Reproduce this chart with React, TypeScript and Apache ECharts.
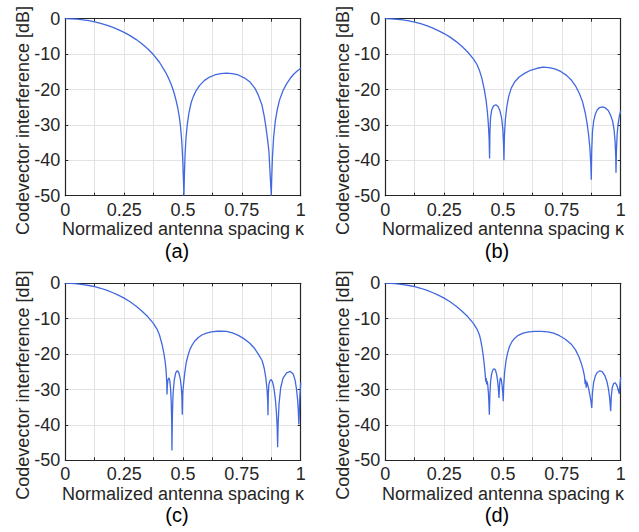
import React, { useEffect, useRef } from 'react';
import * as echarts from 'echarts';

// x: normalized antenna spacing kappa, y: codevector interference [dB]
const xTickLabels = ['0', '0.25', '0.5', '0.75', '1'];
const panelLetters = ['(a)', '(b)', '(c)', '(d)'];

const panelA: [number, number][] = [
  [0, 0], [0.025, -0.04], [0.05, -0.14], [0.075, -0.32], [0.1, -0.56], [0.125, -0.9], [0.15, -1.3], [0.175, -1.8],
  [0.2, -2.38], [0.225, -3.07], [0.25, -3.85], [0.275, -4.78], [0.3, -5.83], [0.325, -7.08], [0.35, -8.51], [0.375, -10.2],
  [0.4, -12.3], [0.425, -15], [0.44, -17], [0.45, -18.6], [0.46, -20.5], [0.47, -22.9], [0.478, -25.3], [0.485, -28.1],
  [0.49, -30.8], [0.495, -34.9], [0.499, -40], [0.502, -46], [0.504, -50],
  [0.506, -44], [0.509, -38], [0.513, -33.5], [0.518, -30], [0.525, -26.7], [0.535, -23.6], [0.545, -21.8], [0.555, -20.4],
  [0.57, -18.9], [0.59, -17.5], [0.61, -16.6], [0.635, -15.9], [0.66, -15.5], [0.685, -15.4], [0.71, -15.5], [0.735, -15.9],
  [0.76, -16.7], [0.785, -17.9], [0.805, -19.6], [0.82, -21.6], [0.835, -24.3], [0.845, -27.5], [0.852, -30.5], [0.86, -34.5],
  [0.865, -37.5], [0.871, -45], [0.875, -50],
  [0.877, -45], [0.88, -39], [0.885, -33.5], [0.892, -29], [0.9, -25.8], [0.91, -23], [0.925, -20.3], [0.94, -18.4],
  [0.955, -16.9], [0.97, -15.7], [0.985, -14.8], [1, -14],
];

const mainLobeBCD: [number, number][] = [
  [0, 0], [0.025, -0.04], [0.05, -0.15], [0.075, -0.35], [0.1, -0.62], [0.125, -0.97], [0.15, -1.4], [0.175, -1.95],
  [0.2, -2.6], [0.225, -3.35], [0.25, -4.2], [0.275, -5.2], [0.3, -6.4], [0.325, -7.8], [0.35, -9.4], [0.375, -11.4],
  [0.39, -13], [0.4, -14.6],
];

const tailB: [number, number][] = [
  [0.41, -16.8], [0.42, -19.8], [0.428, -23], [0.434, -26.5], [0.438, -30], [0.441, -34], [0.443, -39.5],
  [0.4445, -32], [0.447, -28], [0.452, -25.8], [0.46, -24.6], [0.47, -24.3], [0.479, -24.8], [0.487, -26], [0.494, -28],
  [0.499, -31], [0.502, -35], [0.504, -40],
  [0.506, -33], [0.51, -28.5], [0.516, -25], [0.524, -22], [0.535, -19.6], [0.55, -17.8], [0.57, -16.4], [0.595, -15.3],
  [0.62, -14.5], [0.645, -14], [0.67, -13.7], [0.695, -13.8], [0.72, -14.2], [0.745, -14.9], [0.77, -16], [0.79, -17.3],
  [0.81, -19.2], [0.825, -21.2], [0.838, -23.5], [0.849, -26.5], [0.857, -29.5], [0.864, -33], [0.869, -36.5], [0.873, -41],
  [0.875, -45.5],
  [0.877, -37], [0.88, -32], [0.885, -29], [0.892, -27], [0.9, -25.8], [0.91, -25.1], [0.923, -24.9], [0.935, -25.2],
  [0.948, -26], [0.958, -27.4], [0.966, -29], [0.972, -31.5], [0.976, -34.5], [0.979, -39], [0.98, -43.5],
  [0.982, -37], [0.985, -32.5], [0.989, -29.8], [0.994, -27.6], [1, -26],
];

const tailC: [number, number][] = [
  [0.41, -17], [0.418, -19.5], [0.424, -22], [0.428, -24.5], [0.431, -28], [0.432, -31.4],
  [0.4335, -29], [0.436, -27.3], [0.4405, -26.7], [0.444, -27.5], [0.447, -29.5], [0.45, -33.5], [0.452, -39], [0.453, -47.2],
  [0.455, -37], [0.458, -31], [0.463, -27.3], [0.469, -25.3], [0.476, -24.7], [0.482, -25.2], [0.488, -26.8], [0.492, -28.8],
  [0.495, -31.5], [0.497, -37.1],
  [0.499, -31], [0.503, -28], [0.508, -25], [0.514, -22.3], [0.522, -20.2], [0.53, -18.6], [0.54, -17.3], [0.55, -16.3],
  [0.565, -15.3], [0.58, -14.6], [0.6, -14.1], [0.62, -13.75], [0.645, -13.55], [0.663, -13.5], [0.685, -13.6], [0.71, -14],
  [0.735, -14.7], [0.76, -15.7], [0.785, -17], [0.805, -18.5], [0.822, -20.2], [0.836, -21.8], [0.845, -24], [0.852, -26.8],
  [0.857, -30], [0.86, -33.5], [0.861, -37.3],
  [0.8625, -31], [0.865, -28.5], [0.87, -27.4], [0.875, -27.2], [0.88, -27.8], [0.886, -29.5], [0.892, -32.5], [0.897, -36.5],
  [0.9, -40.5], [0.902, -46.3],
  [0.904, -40], [0.908, -34], [0.915, -29.5], [0.925, -26.8], [0.94, -25.3], [0.956, -24.9], [0.968, -25.6], [0.976, -27.3],
  [0.982, -29.8], [0.987, -33], [0.99, -36], [0.992, -39.9],
  [0.994, -37], [0.996, -32.5], [1, -28],
];

const tailD: [number, number][] = [
  [0.405, -16], [0.412, -18.5], [0.418, -21.5], [0.422, -24], [0.425, -26.3], [0.427, -27.8], [0.4285, -26.8], [0.4305, -28.6],
  [0.432, -27.6], [0.435, -28.5], [0.438, -31], [0.44, -33.5], [0.442, -37.1],
  [0.444, -32], [0.447, -28], [0.451, -25.8], [0.456, -24.6], [0.462, -24.1], [0.468, -24.5], [0.473, -25.8], [0.477, -27.5],
  [0.48, -29.5], [0.483, -32.4],
  [0.4855, -28.5], [0.488, -27], [0.49, -26.7], [0.493, -27.3], [0.496, -28.8], [0.499, -31], [0.501, -33.3],
  [0.503, -29], [0.507, -25], [0.513, -21.8], [0.52, -19.5], [0.528, -17.8], [0.538, -16.5], [0.55, -15.5], [0.565, -14.7],
  [0.585, -14.1], [0.61, -13.7], [0.635, -13.6], [0.663, -13.6], [0.69, -13.7], [0.715, -14.1], [0.74, -14.8], [0.765, -15.8],
  [0.79, -17.2], [0.808, -18.8], [0.822, -20.7], [0.832, -22.5], [0.84, -24.3], [0.846, -26.2], [0.849, -28.5], [0.851, -27.2],
  [0.8535, -29.5], [0.856, -27.8], [0.859, -28.5], [0.864, -29.8], [0.869, -31.5], [0.874, -33.5], [0.877, -35.2],
  [0.88, -31], [0.885, -28], [0.892, -26.2], [0.9, -25.2], [0.912, -24.7], [0.922, -25], [0.932, -26], [0.941, -27.6],
  [0.948, -29.8], [0.953, -32.3], [0.9575, -36.1],
  [0.96, -32], [0.964, -29.5], [0.97, -28.3], [0.976, -28.1], [0.982, -28.6], [0.987, -29.5], [0.991, -30.5], [0.994, -31.2],
  [0.997, -28.5], [1, -26.5],
];

const panels: [number, number][][] = [
  panelA,
  mainLobeBCD.concat(tailB),
  mainLobeBCD.concat(tailC),
  mainLobeBCD.concat(tailD),
];

const FONT = "'Liberation Sans', Arial, Helvetica, sans-serif";
const TEXT = '#262626';
const GRIDLINE = '#e3e3e3';
const LINE = '#4168e0';

export default function App() {
  const ref = useRef<HTMLDivElement>(null);
  useEffect(() => {
    document.body.style.margin = '0';
    if (!ref.current) return;
    const chart = echarts.init(ref.current, undefined, { renderer: 'svg' });
    const offsets = [[0, 0], [320, 0], [0, 264.6], [320, 264.6]];
    const grids: any[] = [];
    const xAxes: any[] = [];
    const yAxes: any[] = [];
    const series: any[] = [];
    const graphic: any[] = [];
    const tick = { inside: true, length: 3, lineStyle: { color: TEXT, width: 1 } };
    const axisLine = { show: true, onZero: false, lineStyle: { color: TEXT, width: 1.2 } };
    offsets.forEach(([ox, oy], i) => {
      grids.push({ left: 65.3 + ox, top: 18.7 + oy, width: 235.4, height: 177 });
      xAxes.push({
        gridIndex: i, type: 'value', min: 0, max: 1, interval: 0.125, position: 'bottom',
        axisLine, axisTick: tick,
        axisLabel: {
          color: TEXT, fontSize: 18, fontFamily: FONT, margin: 5,
          formatter: (v: number) => {
            const k = Math.round(v / 0.25);
            return Math.abs(v - k * 0.25) < 1e-6 ? xTickLabels[k] : '';
          },
        },
        splitLine: { show: true, lineStyle: { color: GRIDLINE, width: 1 } },
      });
      xAxes.push({
        gridIndex: i, type: 'value', min: 0, max: 1, interval: 0.125, position: 'top',
        axisLine, axisTick: tick, axisLabel: { show: false }, splitLine: { show: false },
      });
      yAxes.push({
        gridIndex: i, type: 'value', min: -50, max: 0, interval: 10, position: 'left',
        axisLine, axisTick: tick,
        axisLabel: { color: TEXT, fontSize: 18, fontFamily: FONT, margin: 5 },
        splitLine: { show: true, lineStyle: { color: GRIDLINE, width: 1 } },
      });
      yAxes.push({
        gridIndex: i, type: 'value', min: -50, max: 0, interval: 10, position: 'right',
        axisLine, axisTick: tick, axisLabel: { show: false }, splitLine: { show: false },
      });
      series.push({
        type: 'line', xAxisIndex: 2 * i, yAxisIndex: 2 * i, data: panels[i],
        showSymbol: false, symbol: 'none', clip: true,
        lineStyle: { color: LINE, width: 1.3 },
      });
      graphic.push({
        type: 'text', x: 183 + ox, y: 229 + oy,
        style: { text: 'Normalized antenna spacing κ', fontSize: 18, fontFamily: FONT, fill: TEXT, align: 'center', verticalAlign: 'middle' },
      });
      graphic.push({
        type: 'text', x: 22.5 + ox, y: 120.5 + oy, rotation: Math.PI / 2,
        style: { text: 'Codevector interference [dB]', fontSize: 18, fontFamily: FONT, fill: TEXT, align: 'center', verticalAlign: 'middle' },
      });
      graphic.push({
        type: 'text', x: 177 + ox, y: 250.5 + oy,
        style: { text: panelLetters[i], fontSize: 20, fontFamily: FONT, fill: '#000', align: 'center', verticalAlign: 'middle' },
      });
    });
    chart.setOption({
      animation: false,
      backgroundColor: '#ffffff',
      grid: grids,
      xAxis: xAxes,
      yAxis: yAxes,
      series,
      graphic,
    });
    return () => chart.dispose();
  }, []);
  return <div ref={ref} style={{ width: 639, height: 532 }} />;
}
